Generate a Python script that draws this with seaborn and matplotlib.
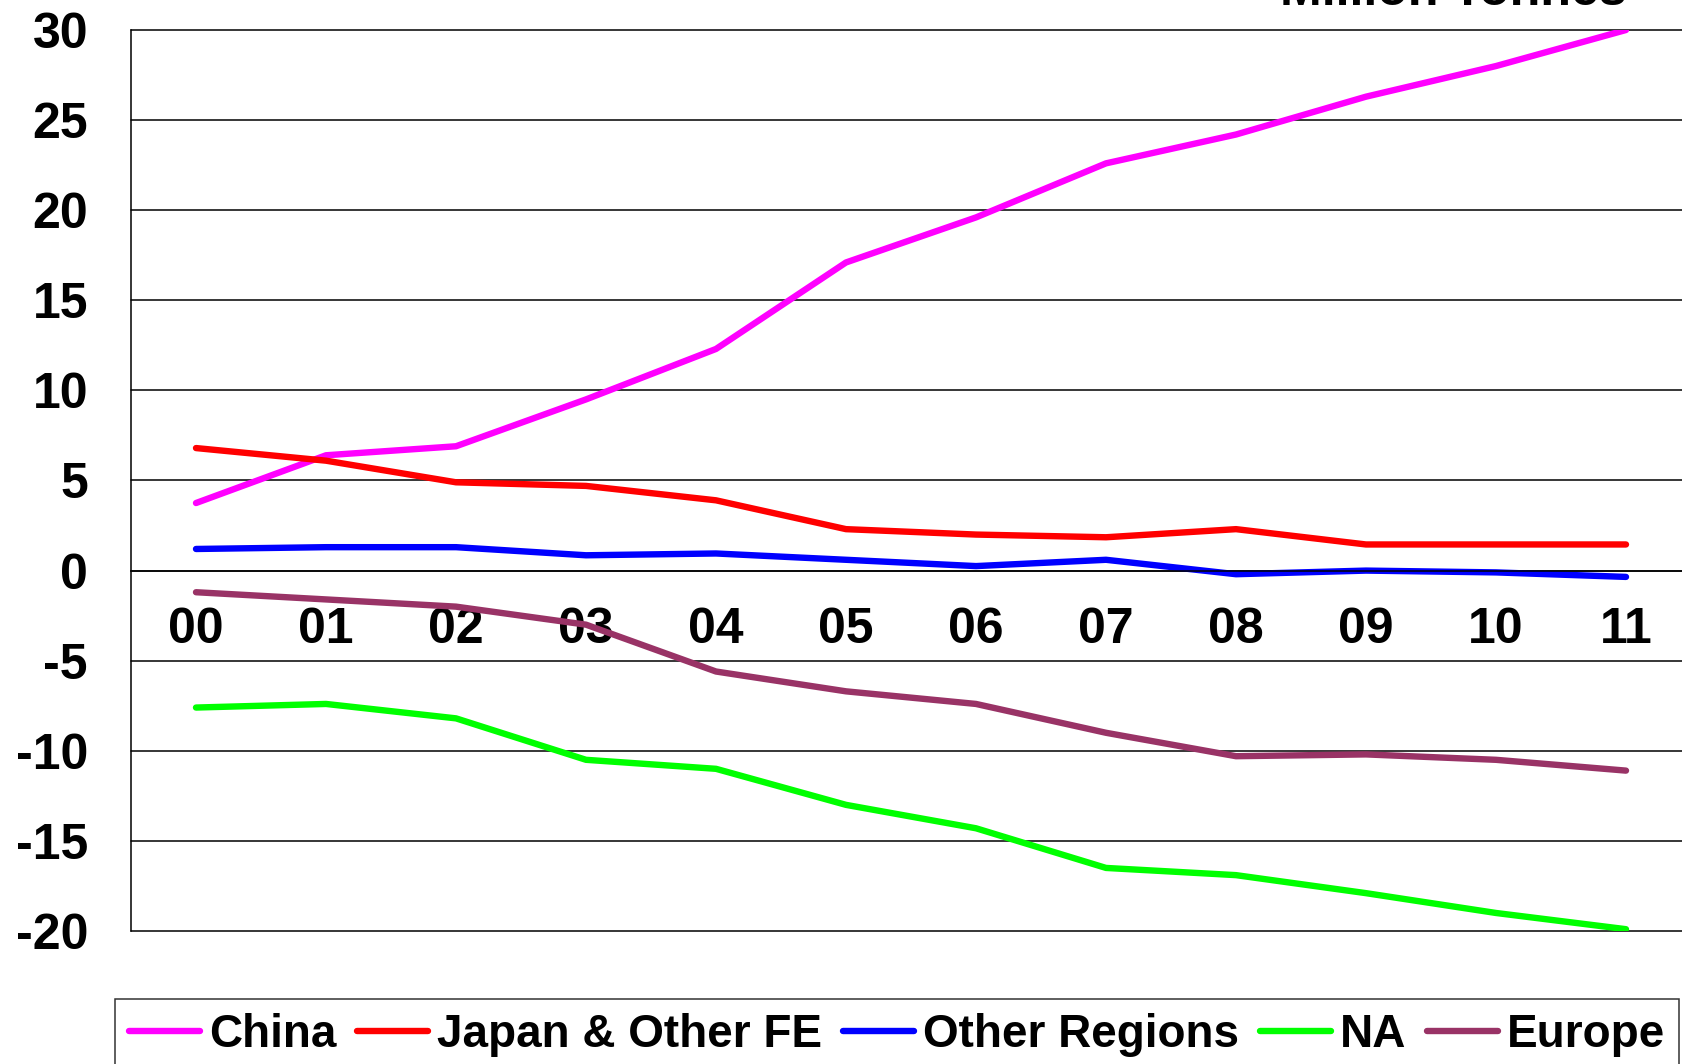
import numpy as np
import pandas as pd
import matplotlib
matplotlib.use("Agg")
import matplotlib.pyplot as plt
import seaborn as sns

# === DATA ===
years = ["00", "01", "02", "03", "04", "05", "06", "07", "08", "09", "10", "11"]
regions = ["China", "Japan & Other FE", "Other Regions", "NA", "Europe"]
china = [3.75, 6.4, 6.9, 9.5, 12.3, 17.1, 19.6, 22.6, 24.2, 26.3, 28.0, 30.0]
japan_fe = [6.8, 6.1, 4.9, 4.7, 3.9, 2.3, 2.0, 1.85, 2.3, 1.45, 1.45, 1.45]
other_regions = [1.2, 1.3, 1.3, 0.85, 0.95, 0.6, 0.25, 0.6, -0.2, 0.0, -0.1, -0.35]
na = [-7.6, -7.4, -8.2, -10.5, -11.0, -13.0, -14.3, -16.5, -16.9, -17.9, -19.0, -19.9]
europe = [-1.2, -1.6, -2.0, -3.0, -5.6, -6.7, -7.4, -9.0, -10.3, -10.2, -10.5, -11.1]
y_ticks = [-20, -15, -10, -5, 0, 5, 10, 15, 20, 25, 30]
colors = ["#FF00FF", "#FF0000", "#0000FF", "#00FF00", "#993366"]
unit_label = "Million Tonnes"

# === CONFIG ===
W, H = 1682, 1064
FONT_SIZE = 36
LW = 4.6

series = [china, japan_fe, other_regions, na, europe]
df = pd.DataFrame({
    "idx": np.tile(np.arange(len(years)), len(regions)),
    "region": np.repeat(regions, len(years)),
    "value": np.concatenate(series),
})

sns.set_style("white")
plt.rcParams["font.family"] = ["Liberation Sans", "DejaVu Sans"]
plt.rcParams["font.weight"] = "bold"
plt.rcParams["text.color"] = "black"
plt.rcParams["xtick.color"] = "black"
plt.rcParams["ytick.color"] = "black"
plt.rcParams["axes.unicode_minus"] = False

fig = plt.figure(figsize=(W / 100, H / 100), dpi=100)
ax = fig.add_axes([131 / W, 1 - 931 / H, 1560 / W, 901 / H])

sns.lineplot(data=df, x="idx", y="value", hue="region", hue_order=regions,
             palette=dict(zip(regions, colors)), linewidth=LW, ax=ax)
for line in ax.get_lines():
    line.set_solid_capstyle("round")

ax.set_xlim(-0.5, len(years) - 0.5)
ax.set_ylim(-20, 30)
ax.set_xlabel("")
ax.set_ylabel("")

# y axis + horizontal gridlines
ax.set_yticks(y_ticks)
ax.set_yticklabels([str(v) for v in y_ticks])
ax.tick_params(axis="y", direction="out", length=13, width=1.1,
               labelsize=FONT_SIZE, pad=18, color="black", labelcolor="black")
ax.yaxis.grid(True, color="black", linewidth=1.1)
for gl in ax.yaxis.get_gridlines():
    gl.set_clip_on(False)
ax.set_axisbelow(True)

# x axis crossing at zero, ticks between categories
ax.spines["bottom"].set_position(("data", 0))
for side in ["bottom", "left"]:
    ax.spines[side].set_linewidth(1.1)
    ax.spines[side].set_color("black")
ax.spines["top"].set_visible(False)
ax.spines["right"].set_visible(False)
ax.set_xticks(range(len(years)))
ax.set_xticklabels(years)
ax.set_xticks(np.arange(0.5, len(years) - 1, 1.0), minor=True)
ax.tick_params(axis="x", which="major", length=0, labelsize=FONT_SIZE, pad=26,
               labelcolor="black")
ax.tick_params(axis="x", which="minor", direction="out", length=12,
               width=1.1, color="black")
for lbl in ax.get_xticklabels() + ax.get_yticklabels():
    lbl.set_fontweight("bold")

# legend in a box under the plot
handles, labels = ax.get_legend_handles_labels()
ax.get_legend().remove()
leg = fig.legend(handles, labels, loc="upper left",
                 bbox_to_anchor=(115 / W, 1 - 999 / H), ncol=5,
                 fontsize=33, frameon=True, fancybox=False, borderaxespad=0,
                 handlelength=1.55, handletextpad=0.2, columnspacing=0.45,
                 borderpad=0.3)
leg.get_frame().set_edgecolor("black")
leg.get_frame().set_linewidth(1.1)
for line in leg.get_lines():
    line.set_linewidth(LW)

fig.text(1627 / W, 1 - 5 / H, unit_label, ha="right", va="baseline",
         fontsize=FONT_SIZE, fontweight="bold")

fig.savefig("out.png", dpi=100)
